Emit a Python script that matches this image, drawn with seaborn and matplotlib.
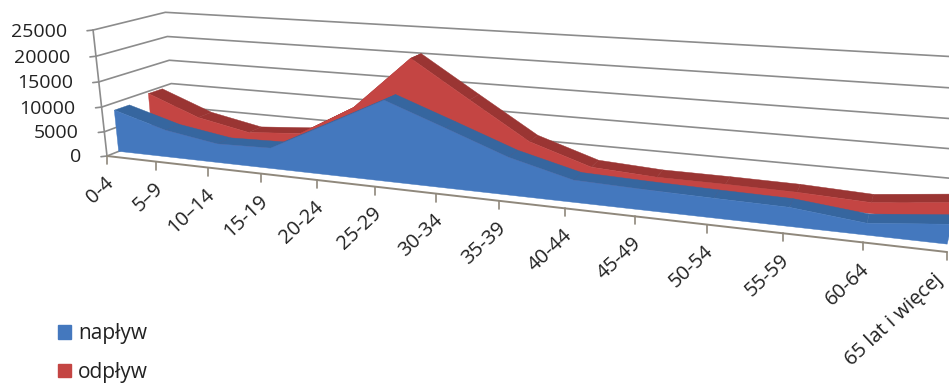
import matplotlib
matplotlib.use("Agg")
import matplotlib.pyplot as plt
from matplotlib.patches import Patch
import numpy as np
import pandas as pd
import seaborn as sns

age_groups = ["0-4", "5–9", "10–14", "15-19", "20-24", "25-29", "30-34", "35-39",
              "40-44", "45-49", "50-54", "55-59", "60-64", "65 lat i więcej"]
inflow = [8550, 5480, 3770, 4050, 9560, 15150, 11060, 6900, 3990, 3640, 3390, 3210, 1950, 3260]
outflow = [9530, 5420, 3290, 4140, 10350, 20570, 13660, 6840, 3180, 2540, 2510, 2380, 1890, 3260]
value_ticks = [0, 5000, 10000, 15000, 20000, 25000]
value_max = 25000

sns.set_theme(style="white")
plt.rcParams["font.family"] = ["Open Sans", "DejaVu Sans"]

fig = plt.figure(figsize=(9.49, 3.83), dpi=100, facecolor="white")
ax = fig.add_axes([0, 0, 1, 1])
ax.set_xlim(0, 949)
ax.set_ylim(383, 0)
ax.axis("off")


def project(t, depth, value):
    """Perspective mapping of (category, depth 0-1, value) onto the canvas."""
    t, depth, v = np.asarray(t, float), np.asarray(depth, float), np.asarray(value, float) / value_max
    w = 1 - 0.01915 * t + 0.087 * depth - 0.0479 * v
    x = (107 + 46.48 * t + 83.2 * depth - 18.4 * v) / w
    y = (156 + 2.56 * t - 15.8 * depth - 127.4 * v) / w
    return x, y


grid = "#8c8c8c"
n = len(age_groups)
last = n - 1
index = np.arange(n)

# Walls: one line per value tick, along the left side and the back
for tick in value_ticks:
    xs, ys = project([0, 0, last], [0, 1, 1], [tick] * 3)
    wall = pd.DataFrame({"x": xs, "y": ys})
    sns.lineplot(data=wall, x="x", y="y", estimator=None, sort=False, color=grid, lw=1.2,
                 zorder=1, ax=ax)
    x0, y0 = project(0, 0, tick)
    ax.plot([x0 - 6, x0], [y0 + 0.7, y0], color=grid, lw=1.2, zorder=1)
    ax.text(x0 - 26, y0 + 1.5, f"{tick}", ha="right", va="center", fontsize=14, color="#222222")

# Value axis
xs, ys = project([0, 0], [0, 0], [0, value_max])
ax.plot(xs, ys, color=grid, lw=1.2, zorder=1)


def draw_band(values, front, back, face, top, z):
    """One series: the dark upper ribbon first, then the front face over it."""
    values = np.asarray(values, float)
    for i in range(n - 1):
        xs, ys = project([i, i + 1, i + 1, i], [front, front, back, back],
                         [values[i], values[i + 1], values[i + 1], values[i]])
        ax.fill(xs, ys, color=top, lw=0.3, zorder=z)
    xt, yt = project(index, front, values)
    xb, yb = project(index, front, 0 * values)
    ax.fill(np.r_[xt, xb[::-1]], np.r_[yt, yb[::-1]], color=face, lw=0.3, zorder=z + 1)


draw_band(outflow, 0.65, 0.86, "#c44543", "#9a3533", 2)
draw_band(inflow, 0.16, 0.37, "#4478be", "#36669f", 4)

# Category axis with ticks and slanted labels
xs, ys = project(index, 0, 0 * index)
ax.plot(xs, ys, color="#8f887c", lw=1.4, zorder=6)
for i, (x, y, label) in enumerate(zip(xs, ys, age_groups)):
    ax.plot([x, x], [y, y + 8], color="#8f887c", lw=1.2, zorder=6)
    dx, dy = (-14, 18) if i == last else (-3, 17)
    ax.text(x + dx, y + dy, label, rotation=43, rotation_mode="anchor", ha="right", va="top",
            fontsize=14.5, color="#222222")

handles = [Patch(color="#4478be", label="napływ"), Patch(color="#c44543", label="odpływ")]
ax.legend(handles=handles, loc="lower left", bbox_to_anchor=(58 / 949, 0.0), frameon=False,
          fontsize=15, handlelength=0.62, handleheight=0.62, handletextpad=0.35,
          labelspacing=0.85, borderpad=0, borderaxespad=0, labelcolor="#222222")

fig.savefig("out.png", dpi=100, facecolor="white")
